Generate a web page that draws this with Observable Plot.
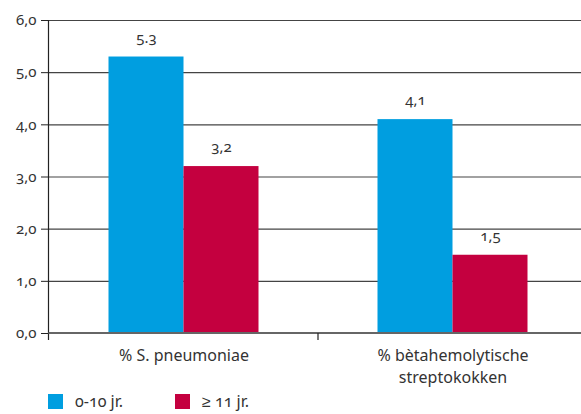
<!DOCTYPE html>
<html><head><meta charset="utf-8">
<script src="https://cdn.jsdelivr.net/npm/d3@7"></script>
<script src="https://cdn.jsdelivr.net/npm/@observablehq/plot@0.6"></script>
<style>
body{margin:0;background:#fff;font-family:"Noto Sans",sans-serif;color:#333}
svg text{font-variant-numeric:oldstyle-nums}
#legend{display:flex;align-items:center;height:26px;font-size:16px;font-variant-numeric:oldstyle-nums}
.item{display:flex;align-items:center;position:absolute}
.sw{width:15px;height:15px;display:inline-block;margin-right:12px}
</style></head>
<body>
<div id="chart"></div>
<div id="legend"></div>
<script>
const groups = ["% S. pneumoniae", "% bètahemolytische\nstreptokokken"];
const seriesNames = ["0-10 jr.", "≥ 11 jr."];
const seriesColors = ["#009ee0", "#c4003f"];
const valuesYoung = [5.3, 4.1];
const valuesOld = [3.2, 1.5];
const labelsYoung = ["5.3", "4,1"];
const labelsOld = ["3,2", "1,5"];
const yTicks = [0, 1, 2, 3, 4, 5, 6];
const yTickLabels = ["0,0", "1,0", "2,0", "3,0", "4,0", "5,0", "6,0"];

const dYoung = groups.map((g, i) => ({group: g, value: valuesYoung[i], label: labelsYoung[i]}));
const dOld = groups.map((g, i) => ({group: g, value: valuesOld[i], label: labelsOld[i]}));

const W = 581, H = 388;
const axisLines = (index, scales, values, dims) => {
  const x = scales.x, y = scales.y;
  const g = d3.create("svg:g");
  const x0 = x(groups[0]) - 0.5, y0 = y(0);
  g.append("line").attr("x1", x0).attr("x2", x0).attr("y1", y(6)).attr("y2", y0 + 7).attr("stroke", "#222").attr("stroke-width", 1.2);
  g.append("line").attr("x1", x0).attr("x2", dims.width).attr("y1", y0).attr("y2", y0).attr("stroke", "#666").attr("stroke-width", 2);
  const xs = x(groups[1]);
  g.append("line").attr("x1", xs).attr("x2", xs).attr("y1", y0).attr("y2", y0 + 7).attr("stroke", "#222").attr("stroke-width", 1.2);
  return g.node();
};

const chart = Plot.plot({
  width: W, height: H,
  marginLeft: 48, marginRight: 0, marginTop: 20, marginBottom: 55,
  style: {fontFamily: "'Noto Sans', sans-serif", fontSize: "15px", color: "#333", background: "#fff"},
  x: {domain: groups, range: [48, 587], padding: 0},
  y: {domain: [0, 6]},
  marks: [
    Plot.gridY(yTicks.slice(1), {stroke: "#444", strokeOpacity: 1, strokeWidth: 1.2}),
    Plot.barY(dYoung, {x: "group", y: "value", fill: seriesColors[0], insetLeft: 59.5, insetRight: 134.5}),
    Plot.barY(dOld, {x: "group", y: "value", fill: seriesColors[1], insetLeft: 134.5, insetRight: 59.5}),
    Plot.text(dYoung, {x: "group", y: "value", text: "label", dx: -37.5, dy: -19, fontSize: 15, fill: "#333"}),
    Plot.text(dOld, {x: "group", y: "value", text: "label", dx: 37.5, dy: -19, fontSize: 15, fill: "#333"}),
    Plot.axisY({ticks: yTicks, tickFormat: (d) => yTickLabels[yTicks.indexOf(d)], tickSize: 7, tickPadding: 5, stroke: "#222", fontSize: 15, label: null, fill: "#333"}),
    Plot.axisX({tickSize: 0, tickPadding: 12, fontSize: 16, lineHeight: 1.38, label: null, fill: "#333"}),
    axisLines
  ]
});
document.getElementById("chart").appendChild(chart);

const legend = document.getElementById("legend");
const legendX = [48, 175];
seriesNames.forEach((s, i) => {
  const it = document.createElement("div");
  it.className = "item";
  it.style.left = legendX[i] + "px";
  const sw = document.createElement("span");
  sw.className = "sw";
  sw.style.background = seriesColors[i];
  it.appendChild(sw);
  it.appendChild(document.createTextNode(s));
  legend.appendChild(it);
});
</script>
</body></html>
